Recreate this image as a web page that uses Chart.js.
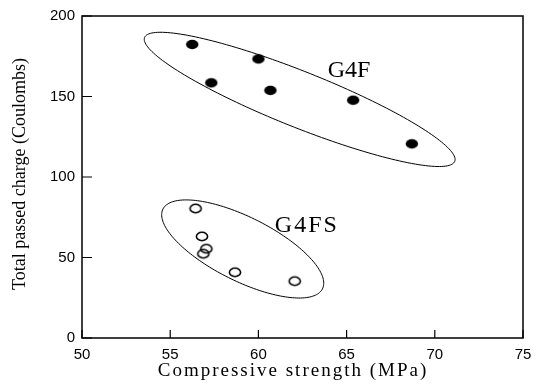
<!DOCTYPE html>
<html>
<head>
<meta charset="utf-8">
<script src="https://cdn.jsdelivr.net/npm/chart.js@4.4.1/dist/chart.umd.min.js"></script>
<style>
  html, body { margin: 0; padding: 0; background: #fff; }
  #wrap { width: 544px; height: 384px; }
</style>
</head>
<body>
<div id="wrap"><canvas id="chart"></canvas></div>
<script>
// Compressive strength (MPa) vs total passed charge (Coulombs)
const g4fStrength = [56.25, 60.0, 57.33, 60.68, 65.37, 68.7];
const g4fCharge = [182.3, 173.3, 158.5, 153.8, 147.7, 120.6];
const g4fsStrength = [56.44, 56.8, 57.05, 56.88, 58.67, 62.06];
const g4fsCharge = [80.4, 63.1, 55.4, 52.3, 40.8, 35.3];

const xTicks = [50, 55, 60, 65, 70, 75];
const yTicks = [0, 50, 100, 150, 200];

const xTitle = "Compressive strength (MPa)";
const yTitle = "Total passed charge (Coulombs)";

// group outlines, in data units: centre, half major axis vector, half minor axis vector
const groups = [
  { name: "G4F", c: [62.34, 148.2], u: [8.79, -38.5], v: [-0.6, -16.0], label: [63.93, 162.0], spacing: 0 },
  { name: "G4FS", c: [59.11, 55.3], u: [4.52, -24.8], v: [-0.82, -17.7], label: [60.93, 65.6], spacing: 2 },
];

const toPoints = (xs, ys) => xs.map((x, i) => ({ x: x, y: ys[i] }));

// slightly flattened marker like the scanned figure
function marker(filled) {
  const c = document.createElement("canvas");
  c.width = 16;
  c.height = 13;
  const g = c.getContext("2d");
  g.beginPath();
  if (filled) {
    g.ellipse(8, 6.5, 6.2, 4.7, 0, 0, Math.PI * 2);
    g.fillStyle = "#000";
    g.fill();
  } else {
    g.ellipse(8, 6.5, 5.6, 4.2, 0, 0, Math.PI * 2);
    g.lineWidth = 1.6;
    g.strokeStyle = "#000";
    g.stroke();
  }
  return c;
}

const overlays = {
  id: "overlays",
  afterDraw(chart) {
    const ctx = chart.ctx;
    const xs = chart.scales.x;
    const ys = chart.scales.y;
    const area = chart.chartArea;
    ctx.save();

    // ellipses round each group
    ctx.strokeStyle = "#000";
    ctx.lineWidth = 1;
    groups.forEach((g) => {
      ctx.beginPath();
      for (let i = 0; i <= 180; i++) {
        const t = (i / 180) * Math.PI * 2;
        const dx = g.c[0] + g.u[0] * Math.cos(t) + g.v[0] * Math.sin(t);
        const dy = g.c[1] + g.u[1] * Math.cos(t) + g.v[1] * Math.sin(t);
        const px = xs.getPixelForValue(dx);
        const py = ys.getPixelForValue(dy);
        if (i === 0) ctx.moveTo(px, py);
        else ctx.lineTo(px, py);
      }
      ctx.stroke();
    });

    // group names
    ctx.fillStyle = "#000";
    ctx.font = "24px 'Liberation Serif', serif";
    ctx.textAlign = "left";
    ctx.textBaseline = "alphabetic";
    groups.forEach((g) => {
      ctx.letterSpacing = g.spacing + "px";
      ctx.fillText(g.name, xs.getPixelForValue(g.label[0]), ys.getPixelForValue(g.label[1]));
    });
    ctx.letterSpacing = "0px";

    // frame
    ctx.lineWidth = 1.5;
    ctx.strokeRect(area.left, area.top, area.right - area.left, area.bottom - area.top);

    // inward ticks
    ctx.lineWidth = 1.2;
    ctx.beginPath();
    ys.ticks.forEach((t) => {
      const py = ys.getPixelForValue(t.value);
      ctx.moveTo(area.left, py);
      ctx.lineTo(area.left + 10, py);
    });
    xs.ticks.forEach((t) => {
      const px = xs.getPixelForValue(t.value);
      ctx.moveTo(px, area.bottom);
      ctx.lineTo(px, area.bottom - 8);
    });
    ctx.stroke();

    // axis titles
    ctx.font = "19px 'Liberation Serif', serif";
    ctx.textAlign = "center";
    ctx.textBaseline = "middle";
    ctx.letterSpacing = "2px";
    ctx.fillText(xTitle, 293, 371);
    ctx.letterSpacing = "0px";
    ctx.font = "18px 'Liberation Serif', serif";
    ctx.translate(20, 174);
    ctx.rotate(-Math.PI / 2);
    ctx.fillText(yTitle, 0, 0);
    ctx.restore();
  },
};

new Chart(document.getElementById("chart"), {
  type: "scatter",
  data: {
    datasets: [
      {
        label: "G4F",
        data: toPoints(g4fStrength, g4fCharge),
        pointStyle: marker(true),
      },
      {
        label: "G4FS",
        data: toPoints(g4fsStrength, g4fsCharge),
        pointStyle: marker(false),
      },
    ],
  },
  options: {
    responsive: true,
    maintainAspectRatio: false,
    animation: false,
    layout: { padding: { top: 13, right: 21, left: 0, bottom: 0 } },
    plugins: {
      legend: { display: false },
      tooltip: { enabled: false },
    },
    scales: {
      x: {
        type: "linear",
        min: xTicks[0],
        max: xTicks[xTicks.length - 1],
        afterBuildTicks: (scale) => {
          scale.ticks = xTicks.map((v) => ({ value: v }));
        },
        afterFit: (scale) => {
          scale.height = 46;
        },
        grid: { drawOnChartArea: false, drawTicks: false },
        border: { display: false },
        ticks: {
          color: "#000",
          padding: 8,
          font: { family: "'Liberation Sans', Arial, sans-serif", size: 15 },
        },
      },
      y: {
        type: "linear",
        min: yTicks[0],
        max: yTicks[yTicks.length - 1],
        afterBuildTicks: (scale) => {
          scale.ticks = yTicks.map((v) => ({ value: v }));
        },
        afterFit: (scale) => {
          scale.width = 82;
        },
        grid: { drawOnChartArea: false, drawTicks: false },
        border: { display: false },
        ticks: {
          color: "#000",
          padding: 7,
          font: { family: "'Liberation Sans', Arial, sans-serif", size: 15 },
        },
      },
    },
  },
  plugins: [overlays],
});
</script>
</body>
</html>
